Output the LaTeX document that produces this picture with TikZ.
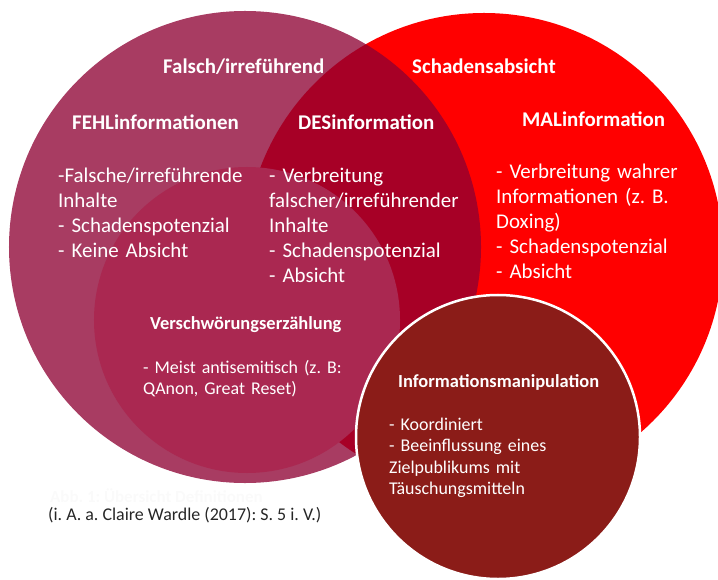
\documentclass[tikz,border=0pt]{standalone}
\usepackage{fontspec}
\setmainfont{Carlito}
\usepackage{xcolor}
\usepackage{tikz}
\usetikzlibrary{positioning}
\frenchspacing
\definecolor{schadenrot}{RGB}{255,0,0}
\definecolor{falschpink}{RGB}{141,0,50}
\definecolor{verschwpink}{RGB}{170,40,81}
\definecolor{manipbraun}{RGB}{139,28,24}
\tikzset{
  kreis/.style={circle, draw=none, inner sep=0pt},
  titel/.style={font=\fontsize{21}{25}\selectfont\bfseries, text=white,
    inner sep=0pt, anchor=base west},
  kleintitel/.style={titel, font=\fontsize{18.5}{22}\selectfont\bfseries},
  liste/.style={font=\fontsize{21}{25.2}\selectfont, text=white,
    align=left, text width=260bp, inner sep=0pt, anchor=base west},
  kleinliste/.style={liste, font=\fontsize{18}{21.7}\selectfont},
  quelle/.style={font=\fontsize{18}{22}\selectfont, inner sep=0pt, anchor=base west},
}

\begin{document}
\begin{tikzpicture}[x=1bp, y=-1bp]
  \useasboundingbox (0,0) rectangle (718,580);

  % Circles
  \node[kreis, fill=schadenrot, minimum size=478bp] (schaden) at (484,252) {};
  \node[kreis, fill=falschpink, fill opacity=0.765, minimum size=472bp] (falsch) at (245,247) {};
  \node[kreis, fill=verschwpink, minimum size=306bp] (verschw) at (247,320) {};
  \node[kreis, fill=manipbraun, draw=white, line width=2.5bp, minimum size=284bp] (manip) at (498,437) {};

  % Top labels
  \node[titel] (falschtitel) at (163,74) {Falsch/irreführend};
  \node[titel] (schadentitel) at (412,74) {Schadensabsicht};

  % Headings
  \node[titel] (fehl) at (72,130) {FEHLinformationen};
  \node[titel] (des) at (298,130) {DESinformation};
  \node[titel] (mal) at (522,127) {MALinformation};
  \node[kleintitel] (vtitel) at (150,329) {Verschwörungserzählung};
  \node[kleintitel] (mtitel) at (398,387) {Informationsmanipulation};

  % Lists — below their headings
  \node[liste, below=52bp of fehl.base west, anchor=base west, xshift=-14bp] (fehlliste)
    {-Falsche/irreführende\\Inhalte\\- Schadenspotenzial\\- Keine Absicht};
  \node[liste, below=52bp of des.base west, anchor=base west, xshift=-29bp] (desliste)
    {- Verbreitung\\falscher/irreführender\\Inhalte\\- Schadenspotenzial\\- Absicht};
  \node[liste, below=51bp of mal.base west, anchor=base west, xshift=-26bp] (malliste)
    {- Verbreitung wahrer\\Informationen (z. B.\\Doxing)\\- Schadenspotenzial\\- Absicht};
  \node[kleinliste, below=44bp of vtitel.base west, anchor=base west, xshift=-7bp] (vliste)
    {- Meist antisemitisch (z. B:\\QAnon, Great Reset)};
  \node[kleinliste, below=43bp of mtitel.base west, anchor=base west, xshift=-9bp] (mliste)
    {- Koordiniert\\- Beeinflussung eines\\Zielpublikums mit\\Täuschungsmitteln};

  % Caption
  \node[quelle, text=black!2, font=\fontsize{17}{20}\selectfont\bfseries] (abb) at (50,502)
    {Abb. 1: Übersicht Definitionen};
  \node[quelle, text=black!85] (wardle) at (48,520)
    {(i. A. a. Claire Wardle (2017): S. 5 i. V.)};
\end{tikzpicture}
\end{document}
